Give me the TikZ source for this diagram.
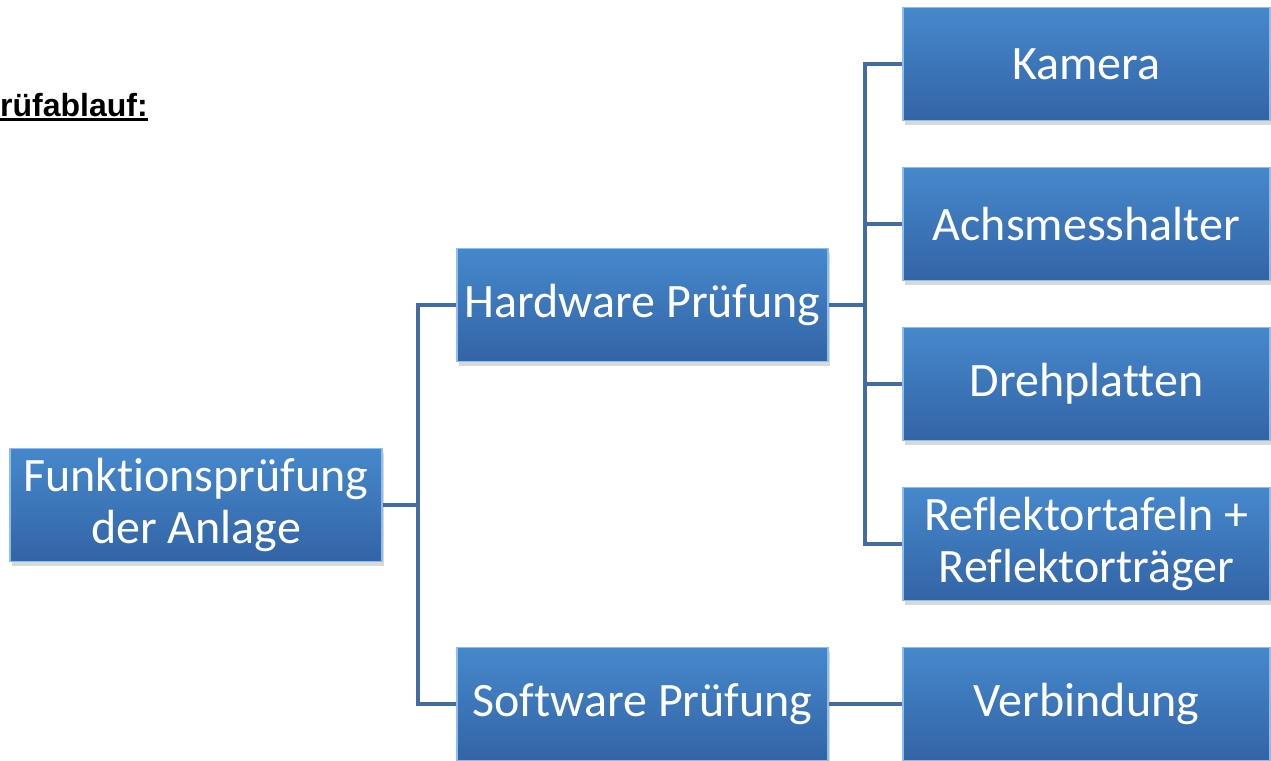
\documentclass[tikz,border=0pt]{standalone}
\usepackage{fontspec}
\setmainfont{Carlito}[Ligatures={NoCommon,NoRequired,NoContextual}]
\newfontfamily\titlefont{Liberation Sans}
\usetikzlibrary{shadows}

\definecolor{boxtop}{RGB}{70,136,204}
\definecolor{boxbot}{RGB}{50,100,166}
\definecolor{boxrim}{RGB}{140,190,238}
\definecolor{linkblue}{RGB}{66,108,164}

% dicke Unterstreichung
\newcommand{\thickul}[1]{\setbox0\hbox{#1}\rlap{\vrule height -2pt depth 5pt width \wd0}\box0}

\begin{document}
\begin{tikzpicture}[x=1pt, y=-1pt,
      box/.style={rectangle, draw=boxrim, line width=1.6pt, top color=boxtop, bottom color=boxbot,
                  text=white, align=center, inner sep=0pt, minimum height=113pt,
                  font=\fontsize{48}{52}\selectfont,
                  drop shadow={shadow xshift=2pt, shadow yshift=-4pt, opacity=0.3}},
      mainbox/.style={box, minimum width=371pt},
      subbox/.style={box, minimum width=367pt},
      link/.style={draw=linkblue, line width=4pt}]

      \useasboundingbox (0,0) rectangle (1271,760);
      \clip (0,0) rectangle (1271,760);

      \node[anchor=base west, inner sep=0pt] (title) at (0,116)
        {\titlefont\bfseries\fontsize{32}{36}\selectfont\thickul{rüfablauf:}};

      \node[mainbox, minimum width=372pt] (root) at (196,505) {Funktionsprüfung\\der Anlage};
      \node[mainbox] (hw) at (642.5,305) {Hardware Prüfung};
      \node[mainbox] (sw) at (642.5,704) {Software Prüfung};

      \node[subbox] (cam)  at (1086.5,64)  {Kamera};
      \node[subbox] (achs) at (1086.5,224) {Achsmesshalter};
      \node[subbox] (dreh) at (1086.5,384) {Drehplatten};
      \node[subbox] (refl) at (1086.5,544) {Reflektortafeln +\\Reflektorträger};
      \node[subbox] (verb) at (1086.5,704) {Verbindung};

      % Verbindungen
      \coordinate (jroot) at (418,505);
      \coordinate (jhw) at (865,305);

      \draw[link] (root.east) -- (jroot);
      \draw[link] (jroot) |- (hw.west);
      \draw[link] (jroot) |- (sw.west);

      \draw[link] (hw.east) -- (jhw);
      \foreach \n in {cam, achs, dreh, refl} {
        \draw[link] (jhw) |- (\n.west);
      }
      \draw[link] (sw.east) -- (verb.west);
    \end{tikzpicture}
\end{document}
